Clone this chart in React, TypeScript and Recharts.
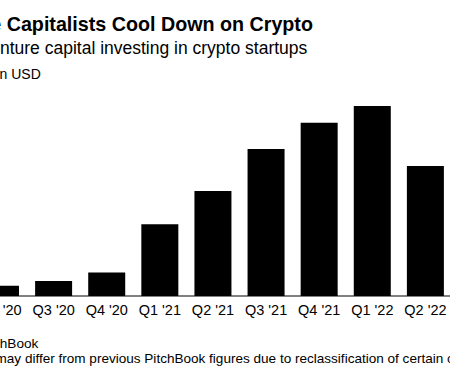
import { FC } from 'react';
import { BarChart, Bar, XAxis, YAxis } from 'recharts';

// quarters visible in the crop (earlier quarters fall outside the frame)
const quarters = ["Q2 '20", "Q3 '20", "Q4 '20", "Q1 '21", "Q2 '21", "Q3 '21", "Q4 '21", "Q1 '22", "Q2 '22"];
// billion USD
const investment = [0.49, 0.72, 1.13, 3.43, 5.02, 7.03, 8.29, 9.09, 6.22];
const yDomain: [number, number] = [0, 10];

const data = quarters.map((q, i) => ({ quarter: q, value: investment[i] }));

const font = "'Liberation Sans', Arial, Helvetica, sans-serif";

const line = (top: number, left: number, size: number, weight = 400) => ({
    position: 'absolute' as const,
    top,
    left,
    fontSize: size,
    fontWeight: weight,
    lineHeight: 1,
    whiteSpace: 'nowrap' as const,
    color: '#000',
});

const App: FC = () => {
    return (
        <div
            style={{
                position: 'fixed',
                top: 0,
                left: 0,
                width: 450,
                height: 375,
                overflow: 'hidden',
                background: '#fff',
                fontFamily: font,
            }}
        >
            <div style={line(14.6, -71, 19.7, 700)}>Venture Capitalists Cool Down on Crypto</div>
            <div style={line(40.2, -74, 17.5)}>Global venture capital investing in crypto startups</div>
            <div style={line(66.5, -30, 14)}>Billion USD</div>

            <div style={{ position: 'absolute', top: 0, left: -26 }}>
                <BarChart
                    width={478}
                    height={326}
                    data={data}
                    margin={{ top: 87, right: 0, left: 0, bottom: 0 }}
                >
                    <XAxis
                        dataKey="quarter"
                        interval={0}
                        tickLine={false}
                        tickMargin={3}
                        axisLine={{ stroke: '#000', strokeWidth: 1 }}
                        tick={{ fontSize: 14.5, fill: '#000', fontFamily: font }}
                        height={30}
                    />
                    <YAxis hide domain={yDomain} />
                    <Bar dataKey="value" fill="#000" barSize={37} isAnimationActive={false} />
                </BarChart>
            </div>

            <div style={line(337.2, -73.5, 13.6)}>Source: PitchBook</div>
            <div style={line(352.2, -73, 13.55)}>
                Note: Data may differ from previous PitchBook figures due to reclassification of certain companies
            </div>
        </div>
    );
};

export default App;
